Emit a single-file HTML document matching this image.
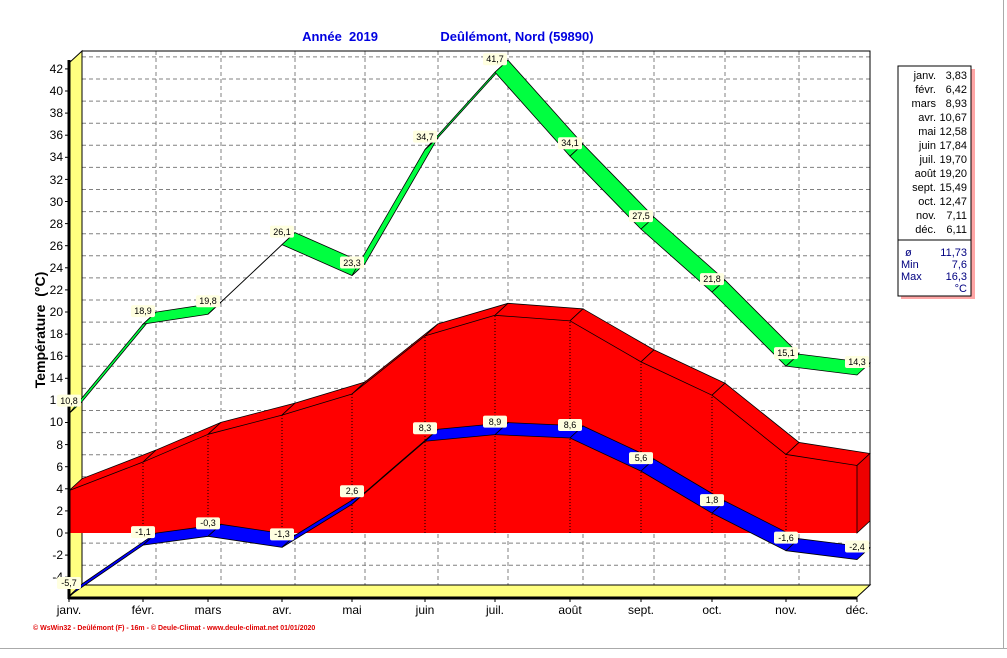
<!DOCTYPE html>
<html><head><meta charset="utf-8"><style>
html,body{margin:0;padding:0;background:#fff;}
svg{display:block;font-family:"Liberation Sans",sans-serif;}
.lb{font-size:9px;text-anchor:middle;}
.tk{font-size:12px;text-anchor:end;}
.mo{font-size:12px;text-anchor:middle;}
</style></head><body>
<svg id="s" width="1007" height="658" xmlns="http://www.w3.org/2000/svg">
<rect width="1007" height="658" fill="#fff"/>
<line x1="0" y1="648.5" x2="1007" y2="648.5" stroke="#aaa"/>
<line x1="1003.5" y1="0" x2="1003.5" y2="648" stroke="#aaa"/>
<g id="grid"></g>
<polygon points="69,63 82,51 82,585 69,597" fill="#ffff80" stroke="#000"/>
<polygon points="69,597 82,585 870,585 857,597" fill="#ffff80" stroke="#000"/>
<rect x="82" y="51" width="788" height="534" fill="none" stroke="#000"/>
<g id="series"></g>
<line x1="69" y1="60" x2="69" y2="599" stroke="#000" stroke-width="3"/>
<line x1="68" y1="598" x2="857" y2="598" stroke="#000" stroke-width="3"/>
<g id="ticks"></g>
<text x="340" y="41" fill="#0000e0" font-weight="bold" font-size="13" text-anchor="middle" xml:space="preserve">Année  2019</text>
<text x="517" y="41" fill="#0000e0" font-weight="bold" font-size="13" text-anchor="middle">Deûlémont, Nord (59890)</text>
<text transform="translate(45,330) rotate(-90)" font-weight="bold" font-size="14" text-anchor="middle" xml:space="preserve">Température  (°C)</text>
<g class="tk">
<text x="63" y="73">42</text><text x="63" y="95">40</text><text x="63" y="117">38</text><text x="63" y="139">36</text><text x="63" y="161">34</text><text x="63" y="184">32</text><text x="63" y="206">30</text><text x="63" y="228">28</text><text x="63" y="250">26</text><text x="63" y="272">24</text><text x="63" y="294">22</text><text x="63" y="316">20</text><text x="63" y="338">18</text><text x="63" y="360">16</text><text x="63" y="382">14</text><text x="63" y="404">12</text><text x="63" y="426">10</text><text x="63" y="449">8</text><text x="63" y="471">6</text><text x="63" y="493">4</text><text x="63" y="515">2</text><text x="63" y="537">0</text><text x="63" y="559">-2</text><text x="63" y="581">-4</text>
</g>
<g class="mo">
<text x="69" y="614">janv.</text><text x="143" y="614">févr.</text><text x="208" y="614">mars</text><text x="282" y="614">avr.</text><text x="352" y="614">mai</text><text x="425" y="614">juin</text><text x="495" y="614">juil.</text><text x="570" y="614">août</text><text x="641" y="614">sept.</text><text x="712" y="614">oct.</text><text x="786" y="614">nov.</text><text x="857" y="614">déc.</text>
</g>
<text x="33" y="630" fill="#e00000" font-size="7" font-weight="bold">© WsWin32 - Deûlémont (F) - 16m - © Deule-Climat - www.deule-climat.net  01/01/2020</text>
<g class="lb">
<g id="lt"></g>
</g>
<rect x="901" y="69" width="74" height="230" fill="#ff8080" opacity="0.7"/>
<rect x="898" y="66" width="73" height="230" fill="#fff" stroke="#000"/>
<line x1="898" y1="240" x2="971" y2="240" stroke="#000"/>
<g font-size="11" text-anchor="end">
<text x="936" y="79">janv.</text><text x="967" y="79">3,83</text>
<text x="936" y="93">févr.</text><text x="967" y="93">6,42</text>
<text x="936" y="107">mars</text><text x="967" y="107">8,93</text>
<text x="936" y="121">avr.</text><text x="967" y="121">10,67</text>
<text x="936" y="135">mai</text><text x="967" y="135">12,58</text>
<text x="936" y="149">juin</text><text x="967" y="149">17,84</text>
<text x="936" y="163">juil.</text><text x="967" y="163">19,70</text>
<text x="936" y="177">août</text><text x="967" y="177">19,20</text>
<text x="936" y="191">sept.</text><text x="967" y="191">15,49</text>
<text x="936" y="205">oct.</text><text x="967" y="205">12,47</text>
<text x="936" y="219">nov.</text><text x="967" y="219">7,11</text>
<text x="936" y="233">déc.</text><text x="967" y="233">6,11</text>
</g>
<g font-size="11" fill="#000080">
<text x="905" y="256">ø</text><text x="967" y="256" text-anchor="end">11,73</text>
<text x="901" y="268">Min</text><text x="967" y="268" text-anchor="end">7,6</text>
<text x="901" y="280">Max</text><text x="967" y="280" text-anchor="end">16,3</text>
<text x="967" y="292" text-anchor="end">°C</text>
</g>
</svg>
<script>
(function(){
var NS="http://www.w3.org/2000/svg";
function el(p,t,a){var e=document.createElementNS(NS,t);for(var k in a)e.setAttribute(k,a[k]);p.appendChild(e);return e;}
var X=[69,143,208,282,352,425,495,570,641,712,786,857];
function Y(v){return 533-11.05*v;}
var DX=13,DY=-12;
var g=document.getElementById('grid');
for(var v=-4;v<=42;v+=2){var y=Y(v)+DY;el(g,'line',{x1:82,y1:y,x2:870,y2:y,stroke:'#808080','stroke-dasharray':'4,3'});}
for(var i=1;i<12;i++){el(g,'line',{x1:X[i]+DX,y1:51,x2:X[i]+DX,y2:585,stroke:'#808080','stroke-dasharray':'4,3'});}
var t=document.getElementById('ticks');
for(var v=-4;v<=42;v+=2){el(t,'line',{x1:65,y1:Y(v),x2:69,y2:Y(v),stroke:'#000'});}
for(var i=0;i<12;i++){el(t,'line',{x1:X[i],y1:597,x2:X[i],y2:602,stroke:'#000'});}
var s=document.getElementById('series');
var mean=[3.83,6.42,8.93,10.67,12.58,17.84,19.70,19.20,15.49,12.47,7.11,6.11];
var mx=[10.8,18.9,19.8,26.1,23.3,34.7,41.7,34.1,27.5,21.8,15.1,14.3];
var mn=[-5.7,-1.1,-0.3,-1.3,2.6,8.3,8.9,8.6,5.6,1.8,-1.6,-2.4];
var pts=X[0]+','+Y(0);
for(var i=0;i<12;i++)pts+=' '+X[i]+','+Y(mean[i]);
pts+=' '+X[11]+','+Y(0);
el(s,'polygon',{points:pts,fill:'#ff0000',stroke:'none'});
for(var i=0;i<11;i++){
 var a=[X[i],Y(mean[i])],b=[X[i+1],Y(mean[i+1])];
 el(s,'polygon',{points:a+' '+b+' '+(b[0]+DX)+','+(b[1]+DY)+' '+(a[0]+DX)+','+(a[1]+DY),fill:'#ff0000',stroke:'#000','stroke-width':0.8});
}
el(s,'polygon',{points:X[11]+','+Y(0)+' '+X[11]+','+Y(mean[11])+' '+(X[11]+DX)+','+(Y(mean[11])+DY)+' '+(X[11]+DX)+','+(Y(0)+DY),fill:'#ee0000',stroke:'#000','stroke-width':0.8});
for(var i=1;i<11;i++)el(s,'line',{x1:X[i],y1:Y(0),x2:X[i],y2:Y(mean[i]),stroke:'#000','stroke-dasharray':'1,2'});
function ribbon(d,col){
 for(var i=0;i<11;i++){
  var a=[X[i],Y(d[i])],b=[X[i+1],Y(d[i+1])];
  el(s,'polygon',{points:a+' '+b+' '+(b[0]+DX)+','+(b[1]+DY)+' '+(a[0]+DX)+','+(a[1]+DY),fill:col,stroke:'#000','stroke-width':0.8});
 }
}
ribbon(mx,'#00ff40');ribbon(mn,'#0000ff');
var lt=document.getElementById('lt');
function lab(d){
 for(var i=0;i<12;i++){
  var x=X[i],y=Y(d[i])-13;
  el(lt,'rect',{x:x-12,y:y-6,width:24,height:12,rx:2,fill:'#ffffe0'});
 }
}
lab(mx);lab(mn);
})();
</script>
<svg width="1007" height="658" style="position:absolute;left:0;top:0;font-family:'Liberation Sans',sans-serif" xmlns="http://www.w3.org/2000/svg">
<g font-size="9" text-anchor="middle">
<text x="69" y="404">10,8</text><text x="143" y="314">18,9</text><text x="208" y="304">19,8</text><text x="282" y="235">26,1</text><text x="352" y="266">23,3</text><text x="425" y="140">34,7</text><text x="495" y="62">41,7</text><text x="570" y="146">34,1</text><text x="641" y="219">27,5</text><text x="712" y="282">21,8</text><text x="786" y="356">15,1</text><text x="857" y="365">14,3</text>
<text x="69" y="586">-5,7</text><text x="143" y="535">-1,1</text><text x="208" y="526">-0,3</text><text x="282" y="537">-1,3</text><text x="352" y="494">2,6</text><text x="425" y="431">8,3</text><text x="495" y="425">8,9</text><text x="570" y="428">8,6</text><text x="641" y="461">5,6</text><text x="712" y="503">1,8</text><text x="786" y="541">-1,6</text><text x="857" y="550">-2,4</text>
</g>
</svg>
</body></html>
